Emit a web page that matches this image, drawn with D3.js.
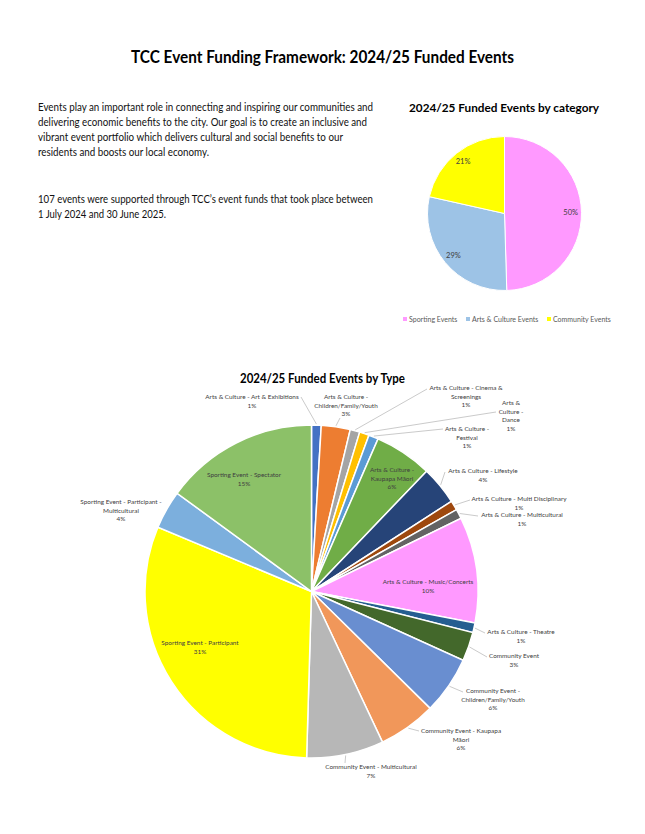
<!DOCTYPE html>
<html><head><meta charset="utf-8">
<script src="https://cdn.jsdelivr.net/npm/d3@7"></script>
<style>
html,body{margin:0;padding:0;background:#fff;}
svg{display:block;}
text{font-family:Lato,"Noto Sans",sans-serif;}
</style></head>
<body>
<svg id="c" width="645" height="834"></svg>
<script>
// ---------- DATA ----------
const titleText = "TCC Event Funding Framework: 2024/25 Funded Events";
const paragraphLines = [
  "Events play an important role in connecting and inspiring our communities and",
  "delivering economic benefits to the city. Our goal is to create an inclusive and",
  "vibrant event portfolio which delivers cultural and social benefits to our",
  "residents and boosts our local economy."
];
const paragraph2Lines = [
  "107 events were supported through TCC\u2019s event funds that took place between",
  "1 July 2024 and 30 June 2025."
];
const categoryTitle = "2024/25 Funded Events by category";
const categories = ["Sporting Events", "Arts & Culture Events", "Community Events"];
const categoryCounts = [53, 31, 23];
const categoryColors = ["#FF99FF", "#9DC3E6", "#FFFF00"];

const typeTitle = "2024/25 Funded Events by Type";
const types = [
  "Arts & Culture - Art & Exhibitions",
  "Arts & Culture - Children/Family/Youth",
  "Arts & Culture - Cinema & Screenings",
  "Arts & Culture - Dance",
  "Arts & Culture - Festival",
  "Arts & Culture - Kaupapa M\u0101ori",
  "Arts & Culture - Lifestyle",
  "Arts & Culture - Multi Disciplinary",
  "Arts & Culture - Multicultural",
  "Arts & Culture - Music/Concerts",
  "Arts & Culture - Theatre",
  "Community Event",
  "Community Event - Children/Family/Youth",
  "Community Event - Kaupapa M\u0101ori",
  "Community Event - Multicultural",
  "Sporting Event - Participant",
  "Sporting Event - Participant - Multicultural",
  "Sporting Event - Spectator"
];
const typeCounts = [1, 3, 1, 1, 1, 6, 4, 1, 1, 11, 1, 3, 6, 6, 8, 33, 4, 16];
const typeColors = ["#4472C4","#ED7D31","#A5A5A5","#FFC000","#5B9BD5","#70AD47",
  "#264478","#9E480E","#636363","#FF99FF","#255E91","#43682B",
  "#698ED0","#F1975A","#B7B7B7","#FFFF00","#7CAFDD","#8CC168"];
// label line breaks (text only)
const typeLabelLines = [
  ["Arts & Culture - Art & Exhibitions"],
  ["Arts & Culture -", "Children/Family/Youth"],
  ["Arts & Culture - Cinema &", "Screenings"],
  ["Arts &", "Culture -", "Dance"],
  ["Arts & Culture -", "Festival"],
  ["Arts & Culture -", "Kaupapa M\u0101ori"],
  ["Arts & Culture - Lifestyle"],
  ["Arts & Culture - Multi Disciplinary"],
  ["Arts & Culture - Multicultural"],
  ["Arts & Culture - Music/Concerts"],
  ["Arts & Culture - Theatre"],
  ["Community Event"],
  ["Community Event -", "Children/Family/Youth"],
  ["Community Event - Kaupapa", "M\u0101ori"],
  ["Community Event - Multicultural"],
  ["Sporting Event - Participant"],
  ["Sporting Event - Participant -", "Multicultural"],
  ["Sporting Event - Spectator"]
];

// ---------- LAYOUT (positions) ----------
const labelLayout = [
  {x:252, y:397, lead:[301,397]},
  {x:346, y:397, lead:[340,418]},
  {x:466, y:388, lead:[427,389]},
  {x:511, y:403, lead:[496,412]},
  {x:467, y:429, lead:[443,429]},
  {x:392, y:470, lead:null},
  {x:483, y:471, lead:[445,472]},
  {x:519, y:499, lead:[470,500]},
  {x:522, y:515, lead:[478,516]},
  {x:428, y:582, lead:null},
  {x:521, y:632, lead:[485,633]},
  {x:514, y:656, lead:[487,657]},
  {x:493, y:691, lead:[463,692]},
  {x:461, y:731, lead:[419,731]},
  {x:371, y:767, lead:[345,763]},
  {x:200, y:643, lead:null},
  {x:121, y:502, lead:null},
  {x:244, y:475, lead:null}
];

const svg = d3.select("#c");
const pct = (v, tot) => Math.round(v / tot * 100) + "%";

// ---------- TEXT ----------
svg.append("text").attr("x", 322.5).attr("y", 63).attr("text-anchor", "middle")
  .attr("font-size", 16.5).attr("font-weight", "bold").attr("fill", "#000")
  .attr("textLength", 383).attr("lengthAdjust", "spacingAndGlyphs").text(titleText);

const paraWidths = [335, 329, 305, 171];
paragraphLines.forEach((t, i) => {
  svg.append("text").attr("x", 38).attr("y", 110.5 + i * 15.3)
    .attr("font-size", 10.5).attr("fill", "#111")
    .attr("textLength", paraWidths[i]).attr("lengthAdjust", "spacingAndGlyphs").text(t);
});
const para2Widths = [335, 128];
paragraph2Lines.forEach((t, i) => {
  svg.append("text").attr("x", 38).attr("y", 203 + i * 15.3)
    .attr("font-size", 10.5).attr("fill", "#111")
    .attr("textLength", para2Widths[i]).attr("lengthAdjust", "spacingAndGlyphs").text(t);
});

// ---------- TOP PIE ----------
svg.append("text").attr("x", 504).attr("y", 111.5).attr("text-anchor", "middle")
  .attr("font-size", 12).attr("font-weight", "bold").attr("fill", "#000")
  .attr("textLength", 190).attr("lengthAdjust", "spacingAndGlyphs").text(categoryTitle);

const catTotal = d3.sum(categoryCounts);
const pie1 = d3.pie().sort(null).value(d => d)(categoryCounts);
const r1 = 77;
const g1 = svg.append("g").attr("transform", "translate(504.5,213.5)");
const arc1 = d3.arc().innerRadius(0).outerRadius(r1);
g1.selectAll("path").data(pie1).join("path")
  .attr("d", arc1).attr("fill", (d, i) => categoryColors[i])
  .attr("stroke", "#fff").attr("stroke-width", 1);
const lab1 = d3.arc().innerRadius(r1 * 0.86).outerRadius(r1 * 0.86);
g1.selectAll("text.p").data(pie1).join("text").attr("class", "p")
  .attr("transform", d => "translate(" + lab1.centroid(d) + ")")
  .attr("text-anchor", "middle").attr("dy", "0.35em")
  .attr("font-size", 7.5).attr("fill", "#404040")
  .text(d => pct(d.data, catTotal));

// legend
const legX = [405, 468, 549];
categories.forEach((c, i) => {
  svg.append("rect").attr("x", legX[i] - 2).attr("y", 317).attr("width", 4).attr("height", 4)
    .attr("fill", categoryColors[i]);
  svg.append("text").attr("x", legX[i] + 4).attr("y", 321.5)
    .attr("font-size", 7).attr("fill", "#595959").text(c);
});

// ---------- BOTTOM PIE ----------
svg.append("text").attr("x", 322.5).attr("y", 382.5).attr("text-anchor", "middle")
  .attr("font-size", 13).attr("font-weight", "bold").attr("fill", "#000")
  .attr("textLength", 165).attr("lengthAdjust", "spacingAndGlyphs").text(typeTitle);

const typeTotal = d3.sum(typeCounts);
const pie2 = d3.pie().sort(null).value(d => d)(typeCounts);
const r2 = 166.5, cx2 = 311.5, cy2 = 591.5;
const g2 = svg.append("g").attr("transform", `translate(${cx2},${cy2})`);
const arc2 = d3.arc().innerRadius(0).outerRadius(r2);
g2.selectAll("path").data(pie2).join("path")
  .attr("d", arc2).attr("fill", (d, i) => typeColors[i])
  .attr("stroke", "#fff").attr("stroke-width", 1.5);

// leader lines
const edge = d3.arc().innerRadius(r2 + 1).outerRadius(r2 + 1);
pie2.forEach((d, i) => {
  const L = labelLayout[i];
  if (!L.lead) return;
  const e = edge.centroid(d);
  svg.append("line")
    .attr("x1", L.lead[0]).attr("y1", L.lead[1])
    .attr("x2", cx2 + e[0]).attr("y2", cy2 + e[1])
    .attr("stroke", "#A6A6A6").attr("stroke-width", 0.6);
});

// labels
pie2.forEach((d, i) => {
  const L = labelLayout[i];
  const lines = typeLabelLines[i].concat([pct(d.data, typeTotal)]);
  const t = svg.append("text").attr("text-anchor", "middle")
    .attr("font-size", 6.4).attr("fill", "#404040");
  lines.forEach((ln, k) => {
    t.append("tspan").attr("x", L.x).attr("y", L.y + 2.2 + k * 8.6).text(ln);
  });
});
</script>
</body></html>
